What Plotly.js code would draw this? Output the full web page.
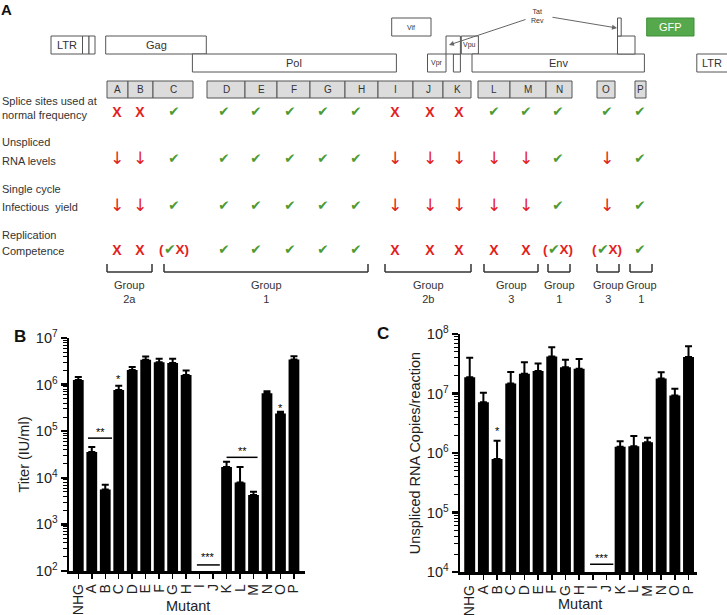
<!DOCTYPE html>
<html>
<head>
<meta charset="utf-8">
<script src="https://cdn.plot.ly/plotly-3.0.1.min.js"></script>
<style>
  html, body { margin: 0; padding: 0; background: #fff; }
  #chart { width: 727px; height: 615px; }
</style>
</head>
<body>
<div id="chart"></div>
<script>
// ---------- Panel A: proviral genome map ----------
// Gene boxes: label, start, end (map units), track (0 = top, 1 = middle, 2 = bottom)
const geneNames = ['LTR', '', '', 'Gag', 'Pol', 'Vif', 'Vpr', '', '', 'Vpu', 'Env', '', '', 'GFP', 'LTR'];
const geneStart = [51, 82.5, 89, 105.7, 192.4, 391.7, 427.5, 453.4, 446, 461.3, 472, 617.5, 617.5, 646.7, 696.8];
const geneEnd   = [82.5, 89, 95, 206.3, 396.4, 431, 446, 460.4, 460.4, 478.4, 644.4, 635, 621.2, 694, 745];
const geneTrack = [1, 1, 1, 1, 2, 0, 2, 2, 1, 1, 2, 1, 0, 0, 2];

// Splice sites A-P and their extent on the map
const siteNames = ['A', 'B', 'C', 'D', 'E', 'F', 'G', 'H', 'I', 'J', 'K', 'L', 'M', 'N', 'O', 'P'];
const siteLeft  = [107, 128, 153, 207, 245, 277, 310, 345, 378, 413, 443, 478, 510, 546, 597, 635];
const siteRight = [128, 153, 193, 245, 277, 310, 345, 378, 413, 443, 471, 510, 546, 572, 615, 646];

// Phenotype of each splice-site mutant: ok / no / down / partial
const spliceUse       = ['no', 'no', 'ok', 'ok', 'ok', 'ok', 'ok', 'ok', 'no', 'no', 'no', 'ok', 'ok', 'ok', 'ok', 'ok'];
const unsplicedRNA    = ['down', 'down', 'ok', 'ok', 'ok', 'ok', 'ok', 'ok', 'down', 'down', 'down', 'down', 'down', 'ok', 'down', 'ok'];
const infectiousYield = ['down', 'down', 'ok', 'ok', 'ok', 'ok', 'ok', 'ok', 'down', 'down', 'down', 'down', 'down', 'ok', 'down', 'ok'];
const replication     = ['no', 'no', 'partial', 'ok', 'ok', 'ok', 'ok', 'ok', 'no', 'no', 'no', 'no', 'no', 'partial', 'partial', 'ok'];

// Phenotypic groups: label and first/last site they span
const groupLabels = ['2a', '1', '2b', '3', '1', '3', '1'];
const groupFirst  = ['A', 'C', 'I', 'L', 'N', 'O', 'P'];
const groupLast   = ['B', 'H', 'K', 'M', 'N', 'O', 'P'];

// ---------- Panels B and C ----------
const mutants = ['NHG', 'A', 'B', 'C', 'D', 'E', 'F', 'G', 'H', 'I', 'J', 'K', 'L', 'M', 'N', 'O', 'P'];
// Infectious titre (IU/ml), mean and mean + error
const titer      = [1.26e6, 3.6e4, 5.6e3, 7.7e5, 2.05e6, 3.4e6, 3.0e6, 2.9e6, 1.6e6, null, null, 1.7e4, 7.9e3, 4.3e3, 6.5e5, 2.4e5, 3.45e6];
const titerUpper = [1.45e6, 4.6e4, 7.1e3, 9.5e5, 2.4e6, 4.0e6, 3.6e6, 3.6e6, 2.0e6, null, null, 2.2e4, 1.7e4, 5.0e3, 7.2e5, 2.6e5, 4.05e6];
// Unspliced RNA copies per reaction, mean and mean + error
const rna      = [1.87e7, 7.1e6, 7.9e5, 1.47e7, 2.14e7, 2.4e7, 4.2e7, 2.77e7, 2.6e7, null, null, 1.27e6, 1.3e6, 1.52e6, 1.79e7, 9.3e6, 4.1e7];
const rnaUpper = [4.0e7, 1.03e7, 1.6e6, 2.3e7, 3.35e7, 3.2e7, 6.0e7, 3.7e7, 3.8e7, null, null, 1.58e6, 1.94e6, 1.8e6, 2.28e7, 1.2e7, 6.2e7];

// ---------- drawing ----------
const W = 727, H = 615;
const FONT = 'Arial, "Liberation Sans", sans-serif';
const SYMF = '"DejaVu Sans", sans-serif';
const RED = '#e3211c', GREEN = '#4b9b33', INK = '#222';

const shapes = [];
const annotations = [];
const ann = (x, y, text, extra) => Object.assign({
  xref: 'x3', yref: 'y3', x, y, text, showarrow: false,
  font: { family: FONT, size: 11, color: '#333' }
}, extra || {});

// genome boxes
const trackTop = [18, 36, 54], trackH = 18;
const smallLabels = new Set(['Vif', 'Vpr', 'Vpu']);
geneNames.forEach((name, i) => {
  const y0 = trackTop[geneTrack[i]];
  const isGfp = name === 'GFP';
  shapes.push({
    type: 'rect', xref: 'x3', yref: 'y3',
    x0: geneStart[i], x1: geneEnd[i], y0, y1: y0 + trackH,
    line: { color: isGfp ? '#3f8f37' : '#555', width: 1 },
    fillcolor: isGfp ? '#55a84b' : '#fff'
  });
  if (name) {
    annotations.push(ann((geneStart[i] + Math.min(geneEnd[i], W)) / 2, y0 + trackH / 2, name, {
      font: { family: FONT, size: smallLabels.has(name) ? 7 : 11, color: isGfp ? '#fff' : '#333' }
    }));
  }
});

// Tat/Rev label with arrows to both exons
annotations.push(ann(537, 16, 'Tat<br>Rev', { font: { family: FONT, size: 7, color: '#333' } }));
annotations.push({ xref: 'x3', yref: 'y3', axref: 'x3', ayref: 'y3', x: 449, y: 45, ax: 527, ay: 19,
  text: '', showarrow: true, arrowhead: 2, arrowsize: 1, arrowwidth: 1, arrowcolor: '#666' });
annotations.push({ xref: 'x3', yref: 'y3', axref: 'x3', ayref: 'y3', x: 617, y: 28, ax: 551, ay: 17,
  text: '', showarrow: true, arrowhead: 2, arrowsize: 1, arrowwidth: 1, arrowcolor: '#666' });

// splice-site boxes
siteNames.forEach((s, i) => {
  shapes.push({
    type: 'rect', xref: 'x3', yref: 'y3', x0: siteLeft[i], x1: siteRight[i], y0: 81, y1: 98,
    line: { color: '#555', width: 1 }, fillcolor: '#dcdcdc'
  });
  annotations.push(ann((siteLeft[i] + siteRight[i]) / 2, 89.5, s, { font: { family: FONT, size: 10, color: '#333' } }));
});

// row captions
[['Splice sites used at', 101], ['normal frequency', 115], ['Unspliced', 142], ['RNA levels', 161],
 ['Single cycle', 189], ['Infectious  yield', 207], ['Replication', 235], ['Competence', 251]]
  .forEach(([t, y]) => annotations.push(ann(0, y, t, { xanchor: 'left', font: { family: FONT, size: 11, color: '#333' } })));

// phenotype marks
const markX = [117, 140, 174, 224, 256, 290, 323, 356, 395, 430, 459, 494, 526, 558, 607, 640];
const markRows = [spliceUse, unsplicedRNA, infectiousYield, replication];
const markY = [113, 160, 207, 251];
const styles = {
  no:      { text: '<b>X</b>', font: { family: FONT, size: 14, color: RED } },
  ok:      { text: '✔', font: { family: SYMF, size: 13.5, color: GREEN } },
  down:    { text: '↓', font: { family: SYMF, size: 17, color: RED } },
  partial: { text: '<span style="color:' + RED + '"><b>(</b></span><span style="color:' + GREEN + '">✔</span><span style="color:' + RED + '"><b>X)</b></span>',
             font: { family: FONT, size: 13.5, color: RED } }
};
const traces = [];
Object.keys(styles).forEach(kind => {
  const xs = [], ys = [];
  markRows.forEach((row, r) => row.forEach((v, i) => { if (v === kind) { xs.push(markX[i]); ys.push(markY[r]); } }));
  traces.push({
    type: 'scatter', mode: 'text', x: xs, y: ys,
    text: xs.map(() => styles[kind].text), textfont: styles[kind].font,
    textposition: 'middle center', hoverinfo: 'skip', cliponaxis: false,
    xaxis: 'x3', yaxis: 'y3', showlegend: false
  });
});

// group brackets
groupLabels.forEach((g, k) => {
  const a = siteNames.indexOf(groupFirst[k]), b = siteNames.indexOf(groupLast[k]);
  const x0 = markX[a] - 10, x1 = markX[b] + 12;
  const line = { color: '#333', width: 1.5 };
  shapes.push({ type: 'line', xref: 'x3', yref: 'y3', x0, x1: x0, y0: 264, y1: 272, line });
  shapes.push({ type: 'line', xref: 'x3', yref: 'y3', x0: x1, x1, y0: 264, y1: 272, line });
  shapes.push({ type: 'line', xref: 'x3', yref: 'y3', x0, x1, y0: 272, y1: 272, line });
  annotations.push(ann((x0 + x1) / 2, 291.5, 'Group<br>' + g, { font: { family: FONT, size: 11, color: '#333' } }));
});

// panel letters and x titles
annotations.push(ann(6, 9, '<b>A</b>', { font: { family: FONT, size: 15, color: '#111' } }));
annotations.push(ann(20, 336, '<b>B</b>', { font: { family: FONT, size: 17, color: '#111' } }));
annotations.push(ann(383, 333, '<b>C</b>', { font: { family: FONT, size: 17, color: '#111' } }));
annotations.push(ann(188, 606, 'Mutant', { font: { family: FONT, size: 14.5, color: INK } }));
annotations.push(ann(580, 604, 'Mutant', { font: { family: FONT, size: 14.5, color: INK } }));

// ---------- bar panels ----------
const upperDelta = (mean, up) => mean.map((v, i) => (v == null ? null : up[i] - v));
function barTrace(values, upper, xa, ya) {
  return {
    type: 'bar', x: mutants, y: values, xaxis: xa, yaxis: ya, width: 0.8,
    marker: { color: '#000', line: { width: 0 } },
    error_y: { type: 'data', symmetric: false, array: upperDelta(values, upper),
               arrayminus: values.map(() => 0), color: '#000', thickness: 2, width: 3.5 },
    hoverinfo: 'x+y', showlegend: false
  };
}
traces.push(barTrace(titer, titerUpper, 'x', 'y'));
traces.push(barTrace(rna, rnaUpper, 'x2', 'y2'));

const pow = e => '10<sup>' + e + '</sup>';
function logAxis(lo, hi, domain, anchor, title, standoff) {
  const vals = [], txt = [];
  for (let e = lo; e <= hi; e++) { vals.push(Math.pow(10, e)); txt.push(pow(e)); }
  return {
    type: 'log', range: [lo, hi], domain, anchor, tickmode: 'array', tickvals: vals, ticktext: txt,
    ticks: 'outside', ticklen: 6, tickwidth: 2.5, tickcolor: '#000',
    minor: { ticks: 'outside', ticklen: 3.5, tickwidth: 1, tickcolor: '#000', dtick: 'D1', showgrid: false },
    showline: true, linewidth: 2.5, linecolor: '#000', showgrid: false, zeroline: false,
    tickfont: { family: FONT, size: 14.5, color: INK },
    title: { text: title, font: { family: FONT, size: 14.5, color: INK }, standoff },
    fixedrange: true
  };
}
function catAxis(domain, anchor, range) {
  return {
    type: 'category', domain, anchor, range, tickangle: -90,
    tickmode: 'array', tickvals: mutants, ticktext: mutants,
    ticks: 'outside', ticklen: 5, tickwidth: 1.5, tickcolor: '#000',
    showline: true, linewidth: 2.5, linecolor: '#000', showgrid: false, zeroline: false,
    tickfont: { family: FONT, size: 14, color: INK }, fixedrange: true
  };
}

// significance marks
const sig = [
  ['x', 'y', 0.72, 2.5, 7.1e4, 4.98, '**'],
  ['x', 'y', 11.0, 13.3, 2.75e4, 4.57, '**'],
  ['x', 'y', 8.8, 10.5, 135, 2.31, '***'],
  ['x2', 'y2', 8.8, 10.5, 1.35e4, 4.24, '***']
];
sig.forEach(([xa, ya, x0, x1, yLine, yText, t]) => {
  shapes.push({ type: 'line', xref: xa, yref: ya, x0, x1, y0: yLine, y1: yLine, line: { color: '#000', width: 1.5 } });
  annotations.push({ xref: xa, yref: ya, x: (x0 + x1) / 2, y: yText, text: t, showarrow: false,
    font: { family: FONT, size: 11, color: '#000' } });
});
[['x', 'y', 3, 6.11], ['x', 'y', 15, 5.49], ['x2', 'y2', 2, 6.37]].forEach(([xa, ya, x, y]) =>
  annotations.push({ xref: xa, yref: ya, x, y, text: '*', showarrow: false, font: { family: FONT, size: 11, color: '#000' } }));

const layout = {
  width: W, height: H, margin: { l: 0, r: 0, t: 0, b: 0 },
  paper_bgcolor: '#fff', plot_bgcolor: 'rgba(0,0,0,0)',
  showlegend: false, bargap: 0.2,
  font: { family: FONT, color: INK },
  xaxis: catAxis([69 / W, 305 / W], 'y', [-0.69, 16.82]),
  yaxis: logAxis(2, 7, [44 / H, 277 / H], 'x', 'Titer (IU/ml)', 3),
  xaxis2: catAxis([460 / W, 697 / W], 'y2', [-0.71, 16.62]),
  yaxis2: logAxis(4, 8, [43 / H, 281 / H], 'x2', 'Unspliced RNA Copies/reaction', 3),
  xaxis3: { domain: [0, 1], range: [0, W], visible: false, anchor: 'y3', fixedrange: true },
  yaxis3: { domain: [0, 1], range: [H, 0], visible: false, anchor: 'x3', fixedrange: true },
  shapes, annotations
};

Plotly.newPlot('chart', traces, layout, { displayModeBar: false, staticPlot: true });
</script>
</body>
</html>
